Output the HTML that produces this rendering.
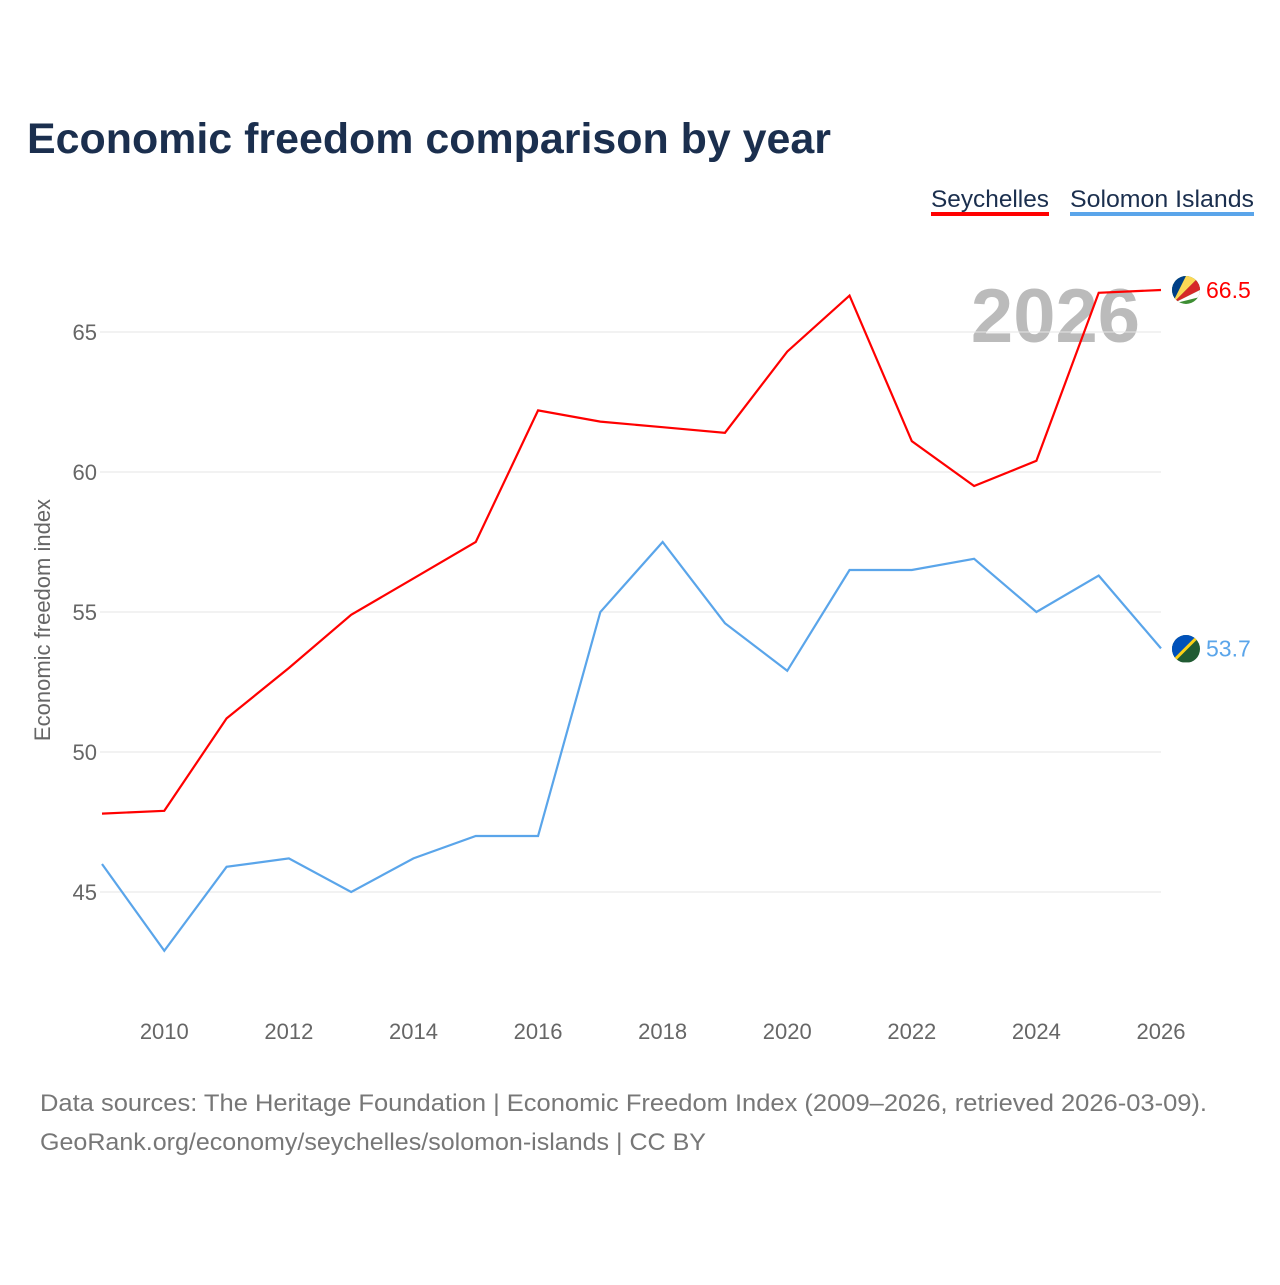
<!DOCTYPE html>
<html><head><meta charset="utf-8"><style>
body{margin:0;background:#fff;font-family:"Liberation Sans",sans-serif}
</style></head><body>
<svg width="1280" height="1280" xmlns="http://www.w3.org/2000/svg">
<defs>
<clipPath id="c1"><circle cx="1186" cy="290" r="14"/></clipPath>
<clipPath id="c2"><circle cx="1186" cy="649" r="14"/></clipPath>
</defs>
<text x="27" y="153" font-size="43" font-weight="bold" fill="#1b2f4e" textLength="804" lengthAdjust="spacingAndGlyphs">Economic freedom comparison by year</text>
<g>
<text x="931" y="207" font-size="24" fill="#1b2f4e" textLength="118" lengthAdjust="spacingAndGlyphs">Seychelles</text>
<rect x="931" y="212" width="118" height="4" fill="#ff0000"/>
<text x="1070" y="207" font-size="24" fill="#1b2f4e" textLength="184" lengthAdjust="spacingAndGlyphs">Solomon Islands</text>
<rect x="1070" y="212" width="184" height="4" fill="#5aa5ea"/>
</g>
<text x="1140" y="342" font-size="76" font-weight="bold" fill="#bbbbbb" text-anchor="end">2026</text>
<g id="grid"></g>
<g id="xt"></g>
<text transform="translate(50,620) rotate(-90)" font-size="22" fill="#666" text-anchor="middle">Economic freedom index</text>
<g id="series"></g>
<text x="40" y="1111" font-size="24" fill="#777" textLength="1167" lengthAdjust="spacingAndGlyphs">Data sources: The Heritage Foundation | Economic Freedom Index (2009–2026, retrieved 2026-03-09).</text>
<text x="40" y="1150" font-size="24" fill="#777" textLength="666" lengthAdjust="spacingAndGlyphs">GeoRank.org/economy/seychelles/solomon-islands | CC BY</text>
</svg>
<script>
const years=[2009,2010,2011,2012,2013,2014,2015,2016,2017,2018,2019,2020,2021,2022,2023,2024,2025,2026];
const seychelles=[47.8,47.9,51.2,53.0,54.9,56.2,57.5,62.2,61.8,61.6,61.4,64.3,66.3,61.1,59.5,60.4,66.4,66.5];
const solomon=[46.0,42.9,45.9,46.2,45.0,46.2,47.0,47.0,55.0,57.5,54.6,52.9,56.5,56.5,56.9,55.0,56.3,53.7];
const yTicks=[45,50,55,60,65];
const xTicks=[2010,2012,2014,2016,2018,2020,2022,2024,2026];
const NS="http://www.w3.org/2000/svg";
const X=y=>102+(y-2009)*(1161-102)/17;
const Y=v=>332+(65-v)*28;
function mk(t,a,p){const e=document.createElementNS(NS,t);for(const k in a)e.setAttribute(k,a[k]);p.appendChild(e);return e;}
const grid=document.getElementById('grid');
yTicks.forEach(v=>{
 const l=mk('line',{x1:100,x2:1161,y1:Y(v),y2:Y(v),stroke:'#e6e6e6','stroke-width':1},grid);
 
 
 const t=mk('text',{x:97,y:Y(v)+8,'font-size':22,fill:'#666','text-anchor':'end'},grid);t.textContent=v;
 
 
});
const xt=document.getElementById('xt');
xTicks.forEach(v=>{
 const t=mk('text',{x:X(v),y:1039,'font-size':22,fill:'#666','text-anchor':'middle'},xt);t.textContent=v;
 
 
});
const sg=document.getElementById('series');
[[seychelles,'#ff0000','seychelles','c1'],[solomon,'#5aa5ea','solomon-islands','c2']].forEach(([d,c,n,clip])=>{
 const p=mk('polyline',{points:d.map((v,i)=>X(years[i])+','+Y(v)).join(' '),fill:'none',stroke:c,'stroke-width':2.2},sg);
 
 
 const last=d[d.length-1];
 const cy=Y(last);
 const g=mk('g',{'clip-path':'url(#'+clip+')'},sg);
 
 
 if(n==='seychelles'){
  mk('rect',{x:1172,y:cy-14,width:28,height:28,fill:'#3d8e33'},g);
  mk('polygon',{points:`1172,${cy+14} 1172,${cy-14} 1186,${cy-14}`,fill:'#003f87'},g);
  mk('polygon',{points:`1172,${cy+14} 1186,${cy-14} 1200,${cy-14}`,fill:'#fcd856'},g);
  mk('polygon',{points:`1172,${cy+14} 1200,${cy-14} 1200,${cy}`,fill:'#d62828'},g);
  mk('polygon',{points:`1172,${cy+14} 1200,${cy} 1200,${cy+7}`,fill:'#fff'},g);
 } else {
  mk('rect',{x:1172,y:cy-14,width:28,height:28,fill:'#215b33'},g);
  mk('polygon',{points:`1172,${cy+14} 1172,${cy-14} 1200,${cy-14}`,fill:'#0051ba'},g);
  mk('line',{x1:1172,y1:cy+14,x2:1200,y2:cy-14,stroke:'#fcd116','stroke-width':3},g);
 }
 const t=mk('text',{x:1206,y:cy+8,'font-size':23,fill:c},sg);t.textContent=last.toFixed(1);
 
 
});
</script>
</body></html>
